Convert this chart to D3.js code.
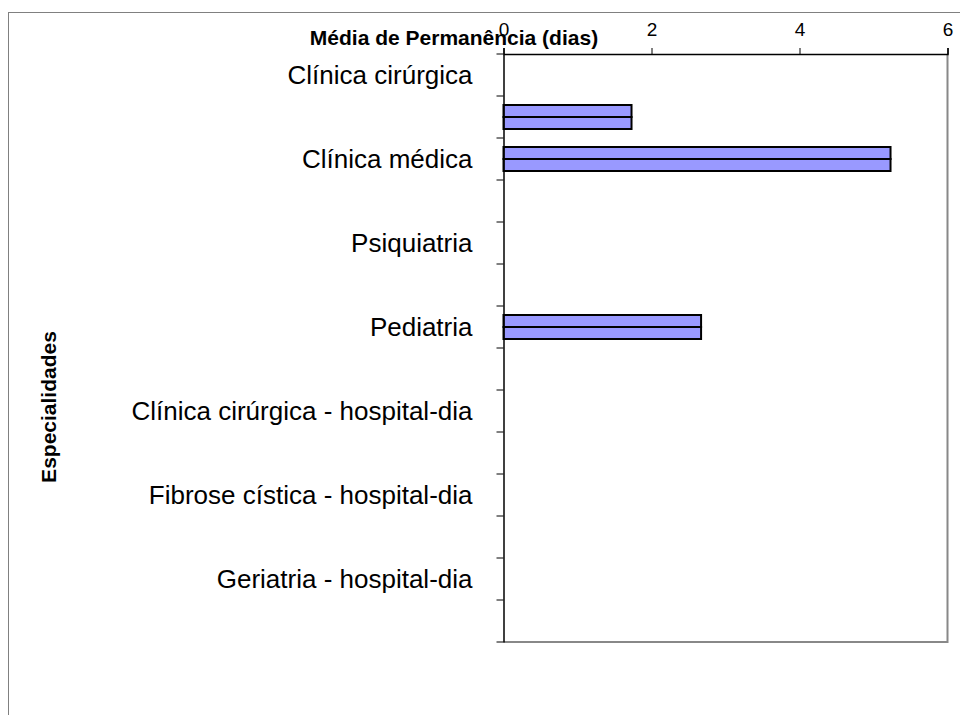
<!DOCTYPE html>
<html><head><meta charset="utf-8">
<script src="https://cdn.jsdelivr.net/npm/d3@7"></script>
<style>body{margin:0;background:#fff;} svg{display:block;}</style>
</head><body>
<svg id="c" width="960" height="715"></svg>
<script>
const categories = ["Clínica cirúrgica","","Clínica médica","","Psiquiatria","","Pediatria","","Clínica cirúrgica - hospital-dia","","Fibrose cística - hospital-dia","","Geriatria - hospital-dia",""];
const seriesA = [0, 1.73, 5.23, 0, 0, 0, 2.67, 0, 0, 0, 0, 0, 0, 0];
const seriesB = [0, 1.73, 5.23, 0, 0, 0, 2.67, 0, 0, 0, 0, 0, 0, 0];
const xTicks = [0, 2, 4, 6];
const xTitle = "Média de Permanência (dias)";
const yTitle = "Especialidades";

const FONT = "Arial, 'Liberation Sans', sans-serif";
const svg = d3.select("#c");
const m = {left: 503.5, right: 947.5, top: 54, bottom: 642};
svg.append("rect").attr("x",8.5).attr("y",12.5).attr("width",1000).attr("height",1000)
  .attr("fill","none").attr("stroke","#808080").attr("stroke-width",1);

const idx = categories.map((d,i)=>i);
const y = d3.scaleBand().domain(idx).range([m.top, m.bottom]).paddingInner(0).paddingOuter(0);
const x = d3.scaleLinear().domain([0,6]).range([m.left, m.right]);
const inner = d3.scaleBand().domain(["A","B"]).range([0, y.bandwidth()]).paddingOuter(0.75).paddingInner(0);

// plot frame right & bottom
svg.append("path").attr("d",`M${m.right},${m.top}V${m.bottom}H${m.left}`)
  .attr("fill","none").attr("stroke","#888").attr("stroke-width",2);

const series = [{k:"A",v:seriesA},{k:"B",v:seriesB}];
series.forEach(s=>{
  svg.append("g").selectAll("rect").data(s.v.map((v,i)=>({v,i})).filter(d=>d.v>0)).join("rect")
    .attr("x", x(0)).attr("y", d=>y(d.i)+inner(s.k))
    .attr("width", d=>x(d.v)-x(0)).attr("height", inner.bandwidth())
    .attr("fill","#9999ff").attr("stroke","#000").attr("stroke-width",2);
});

// top axis
const ax = svg.append("g").attr("transform",`translate(0,${m.top})`)
  .call(d3.axisTop(x).tickValues(xTicks).tickSize(6).tickPadding(12).tickFormat(d3.format("d")));
ax.attr("font-size",null).attr("font-family",null);
ax.select(".domain").attr("stroke","#000").attr("stroke-width",1.5);
ax.selectAll(".tick line").attr("stroke","#000");
ax.selectAll("text").style("font-family",FONT).style("font-size","19px").attr("fill","#000");

// left axis
const ay = svg.append("g").attr("transform",`translate(${m.left},0)`)
  .call(d3.axisLeft(y).tickValues([]).tickSizeOuter(0));
ay.select(".domain").attr("stroke","#000").attr("stroke-width",1.5);
const tickYs = d3.range(categories.length+1).map(i=>m.top + i*y.step());
svg.append("g").selectAll("line").data(tickYs).join("line")
  .attr("x1",m.left-7).attr("x2",m.left).attr("y1",d=>d).attr("y2",d=>d)
  .attr("stroke","#000").attr("stroke-width",1);
svg.append("g").selectAll("text").data(idx.filter(i=>categories[i]!=="")).join("text")
  .attr("x", m.left-31).attr("y", i=>y(i)+y.bandwidth()/2).attr("dy","0.36em")
  .attr("text-anchor","end").attr("font-family",FONT)
  .attr("font-size",26).attr("fill","#000").text(i=>categories[i]);

svg.append("text").attr("x",454).attr("y",45).attr("text-anchor","middle")
  .attr("font-family",FONT).attr("font-weight","bold")
  .attr("font-size",21).text(xTitle);
svg.append("text").attr("transform","translate(56,407) rotate(-90)").attr("text-anchor","middle")
  .attr("font-family",FONT).attr("font-weight","bold")
  .attr("font-size",21).text(yTitle);
</script>
</body></html>
